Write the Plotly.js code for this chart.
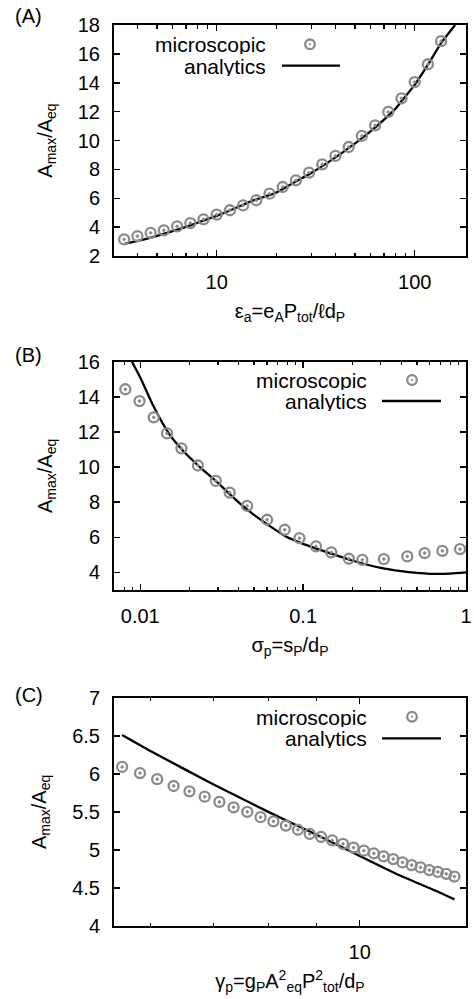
<!DOCTYPE html>
<html>
<head>
<meta charset="utf-8">
<script src="https://cdn.plot.ly/plotly-3.0.1.min.js"></script>
<style>html,body{margin:0;padding:0;background:#fff;}#plot{width:474px;height:999px;}</style>
</head>
<body>
<div id="plot"></div>
<script>
// ---------- Panel A data ----------
const epsA_micro = [3.41, 3.98, 4.64, 5.41, 6.31, 7.36, 8.58, 10.0, 11.66, 13.59, 15.85, 18.48, 21.54, 25.12, 29.29, 34.15, 39.81, 46.42, 54.12, 63.1, 73.56, 85.77, 100.0, 116.6, 135.9];
const ampA_micro = [3.15, 3.38, 3.6, 3.78, 4.05, 4.28, 4.54, 4.87, 5.17, 5.5, 5.86, 6.32, 6.78, 7.24, 7.78, 8.35, 8.93, 9.55, 10.32, 11.05, 11.98, 12.92, 14.05, 15.28, 16.88];
const epsA_line = [3.45, 4, 5, 6, 7, 8, 10, 12, 15, 20, 25, 30, 40, 50, 60, 70, 80, 86, 100, 116, 136, 160];
const ampA_line = [2.86, 3.05, 3.4, 3.72, 4.02, 4.3, 4.78, 5.22, 5.8, 6.4, 7.15, 7.75, 8.85, 9.8, 10.65, 11.45, 12.2, 12.75, 13.85, 15.2, 16.75, 18.0];

// ---------- Panel B data ----------
const sigB_micro = [0.0081, 0.0099, 0.0121, 0.0146, 0.0179, 0.0226, 0.0291, 0.0354, 0.0453, 0.0601, 0.0771, 0.0949, 0.120, 0.149, 0.191, 0.231, 0.313, 0.436, 0.557, 0.716, 0.919];
const ampB_micro = [14.43, 13.76, 12.83, 11.92, 11.07, 10.09, 9.21, 8.55, 7.79, 7.0, 6.43, 5.95, 5.48, 5.14, 4.78, 4.72, 4.76, 4.91, 5.10, 5.23, 5.33];
const sigB_line = [0.0089, 0.01, 0.012, 0.015, 0.018, 0.0226, 0.03, 0.035, 0.045, 0.06, 0.08, 0.1, 0.15, 0.2, 0.3, 0.4, 0.5, 0.6, 0.8, 1.0];
const ampB_line = [16.0, 15.1, 13.5, 11.9, 11.0, 10.1, 9.1, 8.5, 7.6, 6.75, 6.0, 5.63, 5.06, 4.68, 4.26, 4.07, 3.97, 3.92, 3.93, 4.0];

// ---------- Panel C data ----------
const gamC_micro = [5.6, 5.85, 6.1, 6.35, 6.6, 6.85, 7.1, 7.35, 7.6, 7.85, 8.1, 8.35, 8.6, 8.85, 9.1, 9.35, 9.6, 9.85, 10.1, 10.35, 10.6, 10.85, 11.1, 11.35, 11.6, 11.85, 12.1, 12.35, 12.6];
const ampC_micro = [6.09, 6.01, 5.93, 5.84, 5.77, 5.70, 5.63, 5.56, 5.50, 5.43, 5.375, 5.32, 5.265, 5.21, 5.17, 5.125, 5.08, 5.03, 4.99, 4.955, 4.915, 4.88, 4.835, 4.80, 4.77, 4.735, 4.71, 4.685, 4.65];
const gamC_line = [5.6, 6.0, 7.0, 8.0, 9.0, 10.0, 11.0, 12.0, 12.6];
const ampC_line = [6.51, 6.30, 5.86, 5.50, 5.20, 4.92, 4.67, 4.47, 4.35];

// ---------- ticks ----------
const xTickA = [10, 100], xTickTextA = ['10', '100'];
const xMinorA = [4, 5, 6, 7, 8, 9, 20, 30, 40, 50, 60, 70, 80, 90];
const xTickB = [0.01, 0.1, 1], xTickTextB = ['0.01', '0.1', '1'];
const xMinorB = [0.008, 0.009, 0.02, 0.03, 0.04, 0.05, 0.06, 0.07, 0.08, 0.09, 0.2, 0.3, 0.4, 0.5, 0.6, 0.7, 0.8, 0.9];
const xTickC = [10], xTickTextC = ['10'];
const xMinorC = [6, 7, 8, 9];

const W = 474, H = 999;
const px = x => x / W;
const py = y => 1 - y / H;
const FONT = 'Liberation Sans, Arial, Helvetica, sans-serif';
const GREY = '#8a8a8a';

function microTrace(x, y, xa, ya) {
  return {x: x, y: y, xaxis: xa, yaxis: ya, type: 'scatter', mode: 'markers',
    marker: {symbol: 'circle-open-dot', size: 10, color: GREY, line: {width: 2.3, color: GREY}},
    showlegend: false, cliponaxis: true};
}
function lineTrace(x, y, xa, ya) {
  return {x: x, y: y, xaxis: xa, yaxis: ya, type: 'scatter', mode: 'lines',
    line: {color: '#000', width: 2.3, shape: 'spline', smoothing: 0.6}, showlegend: false};
}

const data = [
  lineTrace(epsA_line, ampA_line, 'x', 'y'),
  microTrace(epsA_micro, ampA_micro, 'x', 'y'),
  lineTrace(sigB_line, ampB_line, 'x2', 'y2'),
  microTrace(sigB_micro, ampB_micro, 'x2', 'y2'),
  lineTrace(gamC_line, ampC_line, 'x3', 'y3'),
  microTrace(gamC_micro, ampC_micro, 'x3', 'y3')
];

const tickFont = {family: FONT, size: 20, color: '#000'};
const titleFont = {family: FONT, size: 20, color: '#000'};
const keyFont = {family: FONT, size: 21, color: '#000'};

function xaxis(range, tv, tt, minor, title, anchor) {
  return {type: 'log', range: range, domain: [px(114), px(466)], anchor: anchor,
    tickmode: 'array', tickvals: tv, ticktext: tt, ticks: 'inside', ticklen: 6, tickwidth: 1.5,
    tickcolor: '#000', showline: true, linecolor: '#000', linewidth: 2, mirror: 'ticks',
    showgrid: false, zeroline: false, tickfont: tickFont, ticklabelstandoff: 7,
    minor: {tickmode: 'array', tickvals: minor, ticks: 'inside', ticklen: 3.5, tickwidth: 1.2, tickcolor: '#000', showgrid: false},
    title: {text: title, font: titleFont, standoff: 12}};
}
function yaxis(range, dtick, top, bottom, anchor) {
  return {range: range, dtick: dtick, tick0: 0, domain: [py(bottom), py(top)], anchor: anchor,
    ticks: 'inside', ticklen: 6, tickwidth: 1.5, tickcolor: '#000', showline: true, linecolor: '#000',
    linewidth: 2, mirror: 'ticks', showgrid: false, zeroline: false, tickfont: tickFont, ticklabelstandoff: 8,
    title: {text: 'A<sub>max</sub>/A<sub>eq</sub>', font: titleFont, standoff: 20}};
}

const layout = {
  width: W, height: H, margin: {l: 0, r: 0, t: 0, b: 0},
  paper_bgcolor: '#fff', plot_bgcolor: '#fff', showlegend: false,
  font: {family: FONT, size: 20, color: '#000'},
  xaxis: xaxis([Math.log10(3.03), Math.log10(181.6)], xTickA, xTickTextA, xMinorA,
    'ε<sub>a</sub>=e<sub>A</sub>P<sub>tot</sub>/ℓd<sub>P</sub>', 'y'),
  yaxis: yaxis([2, 18], 2, 25, 256, 'x'),
  xaxis2: xaxis([Math.log10(0.0069), 0], xTickB, xTickTextB, xMinorB,
    'σ<sub>p</sub>=s<sub>P</sub>/d<sub>P</sub>', 'y2'),
  yaxis2: yaxis([3, 16], 2, 361.7, 590, 'x2'),
  xaxis3: xaxis([Math.log10(5.49), Math.log10(12.96)], xTickC, xTickTextC, xMinorC,
    'γ<sub>p</sub>=g<sub>P</sub>A<sup>2</sup><sub>eq</sub>P<sup>2</sup><sub>tot</sub>/d<sub>P</sub>', 'y3'),
  yaxis3: yaxis([4, 7], 0.5, 697.7, 926, 'x3'),
  annotations: [],
  shapes: []
};

// panel labels
[['(A)', 16], ['(B)', 355], ['(C)', 695]].forEach(function (p) {
  layout.annotations.push({text: p[0], xref: 'paper', yref: 'paper', x: px(13), y: py(p[1]),
    xanchor: 'left', yanchor: 'middle', showarrow: false, font: {family: FONT, size: 20, color: '#000'}});
});

// gnuplot-style keys (text left, sample right)
function key(textRight, y1, y2, cx, lx0, lx1) {
  layout.annotations.push({text: 'microscopic', xref: 'paper', yref: 'paper', x: px(textRight), y: py(y1),
    xanchor: 'right', yanchor: 'middle', showarrow: false, font: keyFont, height: 20, valign: 'middle', borderpad: 0});
  layout.annotations.push({text: 'analytics', xref: 'paper', yref: 'paper', x: px(textRight), y: py(y2),
    xanchor: 'right', yanchor: 'middle', showarrow: false, font: keyFont, height: 20, valign: 'middle', borderpad: 0});
  layout.shapes.push({type: 'circle', xref: 'paper', yref: 'paper', xsizemode: 'pixel', ysizemode: 'pixel',
    xanchor: px(cx), yanchor: py(y1), x0: -4.8, x1: 4.8, y0: -4.8, y1: 4.8, line: {color: GREY, width: 2.3}});
  layout.shapes.push({type: 'circle', xref: 'paper', yref: 'paper', xsizemode: 'pixel', ysizemode: 'pixel',
    xanchor: px(cx), yanchor: py(y1), x0: -0.9, x1: 0.9, y0: -0.9, y1: 0.9, fillcolor: GREY, line: {color: GREY, width: 0.5}});
  layout.shapes.push({type: 'line', xref: 'paper', yref: 'paper', x0: px(lx0), x1: px(lx1), y0: py(y2), y1: py(y2),
    line: {color: '#000', width: 2.3}});
}
key(267, 44.3, 65.7, 310, 282, 340);
key(368, 380, 401, 412, 382, 441);
key(368, 716.7, 738.3, 412, 382, 441);

Plotly.newPlot('plot', data, layout, {staticPlot: true, displayModeBar: false});
</script>
</body>
</html>
